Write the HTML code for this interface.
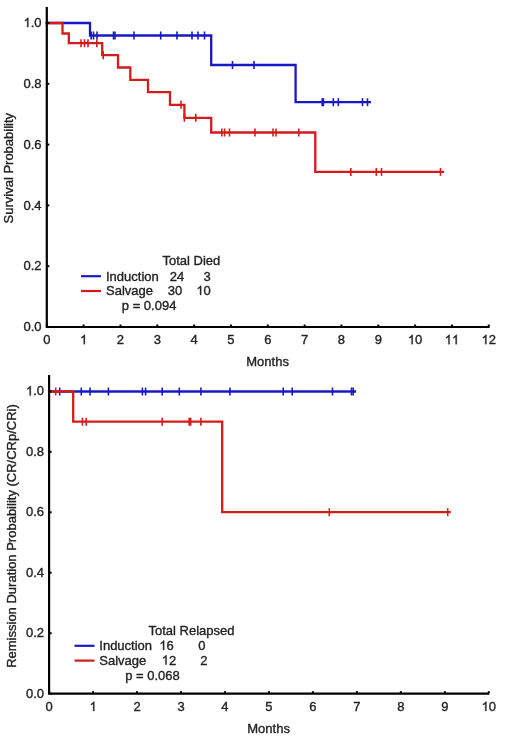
<!DOCTYPE html>
<html><head><meta charset="utf-8"><style>
html,body{margin:0;padding:0;background:#fff;}
body{width:520px;height:751px;overflow:hidden;}
svg{display:block;filter:blur(0.35px);}
text{font-family:"Liberation Sans",sans-serif;font-size:13px;fill:#222;stroke:#222;stroke-width:0.35px;}
.g1{fill:#222;stroke:#222;stroke-width:55px;}
</style></head><body>
<svg width="520" height="751" viewBox="0 0 520 751">
<rect width="520" height="751" fill="#fff"/>
<path d="M46.8 23 L90 23 L90 35.5 L211.2 35.5 L211.2 65 L295.6 65 L295.6 102.2 L369.8 102.2" fill="none" stroke="#1818c4" stroke-width="2.3" stroke-linejoin="miter" stroke-linecap="square"/>
<line x1="91.2" y1="31.5" x2="91.2" y2="39.5" stroke="#1818c4" stroke-width="1.6"/>
<line x1="93.5" y1="31.5" x2="93.5" y2="39.5" stroke="#1818c4" stroke-width="1.6"/>
<line x1="97" y1="31.5" x2="97" y2="39.5" stroke="#1818c4" stroke-width="1.6"/>
<line x1="113.5" y1="31.5" x2="113.5" y2="39.5" stroke="#1818c4" stroke-width="1.6"/>
<line x1="115" y1="31.5" x2="115" y2="39.5" stroke="#1818c4" stroke-width="1.6"/>
<line x1="134" y1="31.5" x2="134" y2="39.5" stroke="#1818c4" stroke-width="1.6"/>
<line x1="160.7" y1="31.5" x2="160.7" y2="39.5" stroke="#1818c4" stroke-width="1.6"/>
<line x1="177" y1="31.5" x2="177" y2="39.5" stroke="#1818c4" stroke-width="1.6"/>
<line x1="192" y1="31.5" x2="192" y2="39.5" stroke="#1818c4" stroke-width="1.6"/>
<line x1="198" y1="31.5" x2="198" y2="39.5" stroke="#1818c4" stroke-width="1.6"/>
<line x1="204.5" y1="31.5" x2="204.5" y2="39.5" stroke="#1818c4" stroke-width="1.6"/>
<line x1="232.5" y1="61" x2="232.5" y2="69" stroke="#1818c4" stroke-width="1.6"/>
<line x1="254" y1="61" x2="254" y2="69" stroke="#1818c4" stroke-width="1.6"/>
<line x1="322.2" y1="98.2" x2="322.2" y2="106.2" stroke="#1818c4" stroke-width="1.6"/>
<line x1="323.4" y1="98.2" x2="323.4" y2="106.2" stroke="#1818c4" stroke-width="1.6"/>
<line x1="333.3" y1="98.2" x2="333.3" y2="106.2" stroke="#1818c4" stroke-width="1.6"/>
<line x1="338.3" y1="98.2" x2="338.3" y2="106.2" stroke="#1818c4" stroke-width="1.6"/>
<line x1="362.5" y1="98.2" x2="362.5" y2="106.2" stroke="#1818c4" stroke-width="1.6"/>
<line x1="367.5" y1="98.2" x2="367.5" y2="106.2" stroke="#1818c4" stroke-width="1.6"/>
<path d="M46.8 23 L62.5 23 L62.5 33.5 L68.8 33.5 L68.8 43.2 L102.2 43.2 L102.2 55.2 L118 55.2 L118 67.5 L130.3 67.5 L130.3 79.8 L148 79.8 L148 92.2 L170 92.2 L170 104.8 L184.4 104.8 L184.4 117.8 L211.2 117.8 L211.2 132.5 L315.3 132.5 L315.3 171.9 L443 171.9" fill="none" stroke="#d41c1c" stroke-width="2.3" stroke-linejoin="miter" stroke-linecap="square"/>
<line x1="81" y1="39.2" x2="81" y2="47.2" stroke="#d41c1c" stroke-width="1.6"/>
<line x1="84.5" y1="39.2" x2="84.5" y2="47.2" stroke="#d41c1c" stroke-width="1.6"/>
<line x1="88" y1="39.2" x2="88" y2="47.2" stroke="#d41c1c" stroke-width="1.6"/>
<line x1="96.8" y1="39.2" x2="96.8" y2="47.2" stroke="#d41c1c" stroke-width="1.6"/>
<line x1="103.2" y1="51.2" x2="103.2" y2="59.2" stroke="#d41c1c" stroke-width="1.6"/>
<line x1="181" y1="100.8" x2="181" y2="108.8" stroke="#d41c1c" stroke-width="1.6"/>
<line x1="184.4" y1="113.8" x2="184.4" y2="121.8" stroke="#d41c1c" stroke-width="1.6"/>
<line x1="195.8" y1="113.8" x2="195.8" y2="121.8" stroke="#d41c1c" stroke-width="1.6"/>
<line x1="221.8" y1="128.5" x2="221.8" y2="136.5" stroke="#d41c1c" stroke-width="1.6"/>
<line x1="224.6" y1="128.5" x2="224.6" y2="136.5" stroke="#d41c1c" stroke-width="1.6"/>
<line x1="229.5" y1="128.5" x2="229.5" y2="136.5" stroke="#d41c1c" stroke-width="1.6"/>
<line x1="255" y1="128.5" x2="255" y2="136.5" stroke="#d41c1c" stroke-width="1.6"/>
<line x1="273" y1="128.5" x2="273" y2="136.5" stroke="#d41c1c" stroke-width="1.6"/>
<line x1="276" y1="128.5" x2="276" y2="136.5" stroke="#d41c1c" stroke-width="1.6"/>
<line x1="298.8" y1="128.5" x2="298.8" y2="136.5" stroke="#d41c1c" stroke-width="1.6"/>
<line x1="350.8" y1="167.9" x2="350.8" y2="175.9" stroke="#d41c1c" stroke-width="1.6"/>
<line x1="376.3" y1="167.9" x2="376.3" y2="175.9" stroke="#d41c1c" stroke-width="1.6"/>
<line x1="381.5" y1="167.9" x2="381.5" y2="175.9" stroke="#d41c1c" stroke-width="1.6"/>
<line x1="440.5" y1="167.9" x2="440.5" y2="175.9" stroke="#d41c1c" stroke-width="1.6"/>
<path d="M46.8 7 L46.8 327 L489.6 327" fill="none" stroke="#000" stroke-width="2.2"/>
<rect x="45.8" y="324.5" width="2" height="2" fill="#000"/>
<text x="46.8" y="344.2" text-anchor="middle">0</text>
<rect x="82.63" y="324.5" width="2" height="2" fill="#000"/>
<path class="g1" transform="translate(80.02 344.2) scale(0.006348 -0.006348)" d="M763 0H583V1147Q518 1085 412 1023Q307 961 223 930V1104Q374 1175 487 1276Q600 1377 647 1472H763Z"/>
<rect x="119.46" y="324.5" width="2" height="2" fill="#000"/>
<text x="120.46" y="344.2" text-anchor="middle">2</text>
<rect x="156.29" y="324.5" width="2" height="2" fill="#000"/>
<text x="157.29" y="344.2" text-anchor="middle">3</text>
<rect x="193.12" y="324.5" width="2" height="2" fill="#000"/>
<text x="194.12" y="344.2" text-anchor="middle">4</text>
<rect x="229.95" y="324.5" width="2" height="2" fill="#000"/>
<text x="230.95" y="344.2" text-anchor="middle">5</text>
<rect x="266.78" y="324.5" width="2" height="2" fill="#000"/>
<text x="267.78" y="344.2" text-anchor="middle">6</text>
<rect x="303.61" y="324.5" width="2" height="2" fill="#000"/>
<text x="304.61" y="344.2" text-anchor="middle">7</text>
<rect x="340.44" y="324.5" width="2" height="2" fill="#000"/>
<text x="341.44" y="344.2" text-anchor="middle">8</text>
<rect x="377.27" y="324.5" width="2" height="2" fill="#000"/>
<text x="378.27" y="344.2" text-anchor="middle">9</text>
<rect x="414.1" y="324.5" width="2" height="2" fill="#000"/>
<path class="g1" transform="translate(407.87 344.2) scale(0.006348 -0.006348)" d="M763 0H583V1147Q518 1085 412 1023Q307 961 223 930V1104Q374 1175 487 1276Q600 1377 647 1472H763Z"/>
<text x="415.1" y="344.2">0</text>
<rect x="450.93" y="324.5" width="2" height="2" fill="#000"/>
<path class="g1" transform="translate(444.7 344.2) scale(0.006348 -0.006348)" d="M763 0H583V1147Q518 1085 412 1023Q307 961 223 930V1104Q374 1175 487 1276Q600 1377 647 1472H763Z"/>
<path class="g1" transform="translate(451.93 344.2) scale(0.006348 -0.006348)" d="M763 0H583V1147Q518 1085 412 1023Q307 961 223 930V1104Q374 1175 487 1276Q600 1377 647 1472H763Z"/>
<rect x="487.76" y="324.5" width="2" height="2" fill="#000"/>
<path class="g1" transform="translate(481.53 344.2) scale(0.006348 -0.006348)" d="M763 0H583V1147Q518 1085 412 1023Q307 961 223 930V1104Q374 1175 487 1276Q600 1377 647 1472H763Z"/>
<text x="488.76" y="344.2">2</text>
<rect x="47.3" y="326" width="2" height="2" fill="#000"/>
<text x="41.6" y="331.1" text-anchor="end">0.0</text>
<rect x="47.3" y="265.2" width="2" height="2" fill="#000"/>
<text x="41.6" y="270.3" text-anchor="end">0.2</text>
<rect x="47.3" y="204.4" width="2" height="2" fill="#000"/>
<text x="41.6" y="209.5" text-anchor="end">0.4</text>
<rect x="47.3" y="143.6" width="2" height="2" fill="#000"/>
<text x="41.6" y="148.7" text-anchor="end">0.6</text>
<rect x="47.3" y="82.8" width="2" height="2" fill="#000"/>
<text x="41.6" y="87.9" text-anchor="end">0.8</text>
<rect x="47.3" y="22" width="2" height="2" fill="#000"/>
<path class="g1" transform="translate(23.53 27.1) scale(0.006348 -0.006348)" d="M763 0H583V1147Q518 1085 412 1023Q307 961 223 930V1104Q374 1175 487 1276Q600 1377 647 1472H763Z"/>
<text x="30.76" y="27.1">.0</text>
<text x="267.6" y="365.7" text-anchor="middle">Months</text>
<text transform="translate(12.8 168.2) rotate(-90)" x="0" y="0" text-anchor="middle">Survival Probability</text>
<text x="162.5" y="264.8" text-anchor="start">Total Died</text>
<line x1="81" y1="276.2" x2="101" y2="276.2" stroke="#1818c4" stroke-width="2.2"/>
<text x="106" y="281" text-anchor="start">Induction</text>
<text x="184.2" y="280.6" text-anchor="end">24</text>
<text x="210.8" y="280.6" text-anchor="end">3</text>
<line x1="81" y1="291" x2="101" y2="291" stroke="#d41c1c" stroke-width="2.2"/>
<text x="106" y="295.2" text-anchor="start">Salvage</text>
<text x="182.2" y="295" text-anchor="end">30</text>
<path class="g1" transform="translate(196.34 295) scale(0.006348 -0.006348)" d="M763 0H583V1147Q518 1085 412 1023Q307 961 223 930V1104Q374 1175 487 1276Q600 1377 647 1472H763Z"/>
<text x="203.57" y="295">0</text>
<text x="121.8" y="310.3" text-anchor="start">p = 0.094</text>
<path d="M49.1 391.5 L355 391.5" fill="none" stroke="#1818c4" stroke-width="2.3" stroke-linejoin="miter" stroke-linecap="square"/>
<line x1="59.7" y1="387.5" x2="59.7" y2="395.5" stroke="#1818c4" stroke-width="1.6"/>
<line x1="81.3" y1="387.5" x2="81.3" y2="395.5" stroke="#1818c4" stroke-width="1.6"/>
<line x1="90" y1="387.5" x2="90" y2="395.5" stroke="#1818c4" stroke-width="1.6"/>
<line x1="108.4" y1="387.5" x2="108.4" y2="395.5" stroke="#1818c4" stroke-width="1.6"/>
<line x1="142.4" y1="387.5" x2="142.4" y2="395.5" stroke="#1818c4" stroke-width="1.6"/>
<line x1="145.6" y1="387.5" x2="145.6" y2="395.5" stroke="#1818c4" stroke-width="1.6"/>
<line x1="162.2" y1="387.5" x2="162.2" y2="395.5" stroke="#1818c4" stroke-width="1.6"/>
<line x1="179.3" y1="387.5" x2="179.3" y2="395.5" stroke="#1818c4" stroke-width="1.6"/>
<line x1="200.9" y1="387.5" x2="200.9" y2="395.5" stroke="#1818c4" stroke-width="1.6"/>
<line x1="229.9" y1="387.5" x2="229.9" y2="395.5" stroke="#1818c4" stroke-width="1.6"/>
<line x1="283.2" y1="387.5" x2="283.2" y2="395.5" stroke="#1818c4" stroke-width="1.6"/>
<line x1="292.2" y1="387.5" x2="292.2" y2="395.5" stroke="#1818c4" stroke-width="1.6"/>
<line x1="332.5" y1="387.5" x2="332.5" y2="395.5" stroke="#1818c4" stroke-width="1.6"/>
<line x1="351.5" y1="387.5" x2="351.5" y2="395.5" stroke="#1818c4" stroke-width="1.6"/>
<line x1="353.2" y1="387.5" x2="353.2" y2="395.5" stroke="#1818c4" stroke-width="1.6"/>
<path d="M49.1 391.5 L73.2 391.5 L73.2 421.7 L222.2 421.7 L222.2 512.2 L449.6 512.2" fill="none" stroke="#d41c1c" stroke-width="2.3" stroke-linejoin="miter" stroke-linecap="square"/>
<line x1="55.7" y1="387.5" x2="55.7" y2="395.5" stroke="#d41c1c" stroke-width="1.6"/>
<line x1="82.4" y1="417.7" x2="82.4" y2="425.7" stroke="#d41c1c" stroke-width="1.6"/>
<line x1="86.2" y1="417.7" x2="86.2" y2="425.7" stroke="#d41c1c" stroke-width="1.6"/>
<line x1="162.2" y1="417.7" x2="162.2" y2="425.7" stroke="#d41c1c" stroke-width="1.6"/>
<line x1="189.2" y1="417.7" x2="189.2" y2="425.7" stroke="#d41c1c" stroke-width="1.6"/>
<line x1="190.7" y1="417.7" x2="190.7" y2="425.7" stroke="#d41c1c" stroke-width="1.6"/>
<line x1="200.9" y1="417.7" x2="200.9" y2="425.7" stroke="#d41c1c" stroke-width="1.6"/>
<line x1="329.3" y1="508.2" x2="329.3" y2="516.2" stroke="#d41c1c" stroke-width="1.6"/>
<line x1="447.7" y1="508.2" x2="447.7" y2="516.2" stroke="#d41c1c" stroke-width="1.6"/>
<path d="M49.1 375 L49.1 693.7 L489.3 693.7" fill="none" stroke="#000" stroke-width="2.2"/>
<rect x="48.1" y="691.2" width="2" height="2" fill="#000"/>
<text x="49.1" y="711" text-anchor="middle">0</text>
<rect x="92.07" y="691.2" width="2" height="2" fill="#000"/>
<path class="g1" transform="translate(89.46 711) scale(0.006348 -0.006348)" d="M763 0H583V1147Q518 1085 412 1023Q307 961 223 930V1104Q374 1175 487 1276Q600 1377 647 1472H763Z"/>
<rect x="136.04" y="691.2" width="2" height="2" fill="#000"/>
<text x="137.04" y="711" text-anchor="middle">2</text>
<rect x="180.01" y="691.2" width="2" height="2" fill="#000"/>
<text x="181.01" y="711" text-anchor="middle">3</text>
<rect x="223.98" y="691.2" width="2" height="2" fill="#000"/>
<text x="224.98" y="711" text-anchor="middle">4</text>
<rect x="267.95" y="691.2" width="2" height="2" fill="#000"/>
<text x="268.95" y="711" text-anchor="middle">5</text>
<rect x="311.92" y="691.2" width="2" height="2" fill="#000"/>
<text x="312.92" y="711" text-anchor="middle">6</text>
<rect x="355.89" y="691.2" width="2" height="2" fill="#000"/>
<text x="356.89" y="711" text-anchor="middle">7</text>
<rect x="399.86" y="691.2" width="2" height="2" fill="#000"/>
<text x="400.86" y="711" text-anchor="middle">8</text>
<rect x="443.83" y="691.2" width="2" height="2" fill="#000"/>
<text x="444.83" y="711" text-anchor="middle">9</text>
<rect x="487.8" y="691.2" width="2" height="2" fill="#000"/>
<path class="g1" transform="translate(481.57 711) scale(0.006348 -0.006348)" d="M763 0H583V1147Q518 1085 412 1023Q307 961 223 930V1104Q374 1175 487 1276Q600 1377 647 1472H763Z"/>
<text x="488.8" y="711">0</text>
<rect x="49.6" y="692.7" width="2" height="2" fill="#000"/>
<text x="44" y="697.8" text-anchor="end">0.0</text>
<rect x="49.6" y="632.22" width="2" height="2" fill="#000"/>
<text x="44" y="637.32" text-anchor="end">0.2</text>
<rect x="49.6" y="571.74" width="2" height="2" fill="#000"/>
<text x="44" y="576.84" text-anchor="end">0.4</text>
<rect x="49.6" y="511.26" width="2" height="2" fill="#000"/>
<text x="44" y="516.36" text-anchor="end">0.6</text>
<rect x="49.6" y="450.78" width="2" height="2" fill="#000"/>
<text x="44" y="455.88" text-anchor="end">0.8</text>
<rect x="49.6" y="390.3" width="2" height="2" fill="#000"/>
<path class="g1" transform="translate(25.93 395.4) scale(0.006348 -0.006348)" d="M763 0H583V1147Q518 1085 412 1023Q307 961 223 930V1104Q374 1175 487 1276Q600 1377 647 1472H763Z"/>
<text x="33.16" y="395.4">.0</text>
<text x="268.6" y="732.5" text-anchor="middle">Months</text>
<text transform="translate(16.2 536) rotate(-90)" x="0" y="0" text-anchor="middle">Remission Duration Probability (CR/CRp/CRi)</text>
<text x="148.5" y="634.7" text-anchor="start">Total Relapsed</text>
<line x1="74.5" y1="645.8" x2="94.5" y2="645.8" stroke="#1818c4" stroke-width="2.2"/>
<text x="99.3" y="649.9" text-anchor="start">Induction</text>
<path class="g1" transform="translate(159.34 649.9) scale(0.006348 -0.006348)" d="M763 0H583V1147Q518 1085 412 1023Q307 961 223 930V1104Q374 1175 487 1276Q600 1377 647 1472H763Z"/>
<text x="166.57" y="649.9">6</text>
<text x="205.6" y="649.9" text-anchor="end">0</text>
<line x1="74.5" y1="660.6" x2="94.5" y2="660.6" stroke="#d41c1c" stroke-width="2.2"/>
<text x="99.3" y="664.6" text-anchor="start">Salvage</text>
<path class="g1" transform="translate(161.74 664.6) scale(0.006348 -0.006348)" d="M763 0H583V1147Q518 1085 412 1023Q307 961 223 930V1104Q374 1175 487 1276Q600 1377 647 1472H763Z"/>
<text x="168.97" y="664.6">2</text>
<text x="207.4" y="664.6" text-anchor="end">2</text>
<text x="125.2" y="679.8" text-anchor="start">p = 0.068</text>
</svg>
</body></html>
